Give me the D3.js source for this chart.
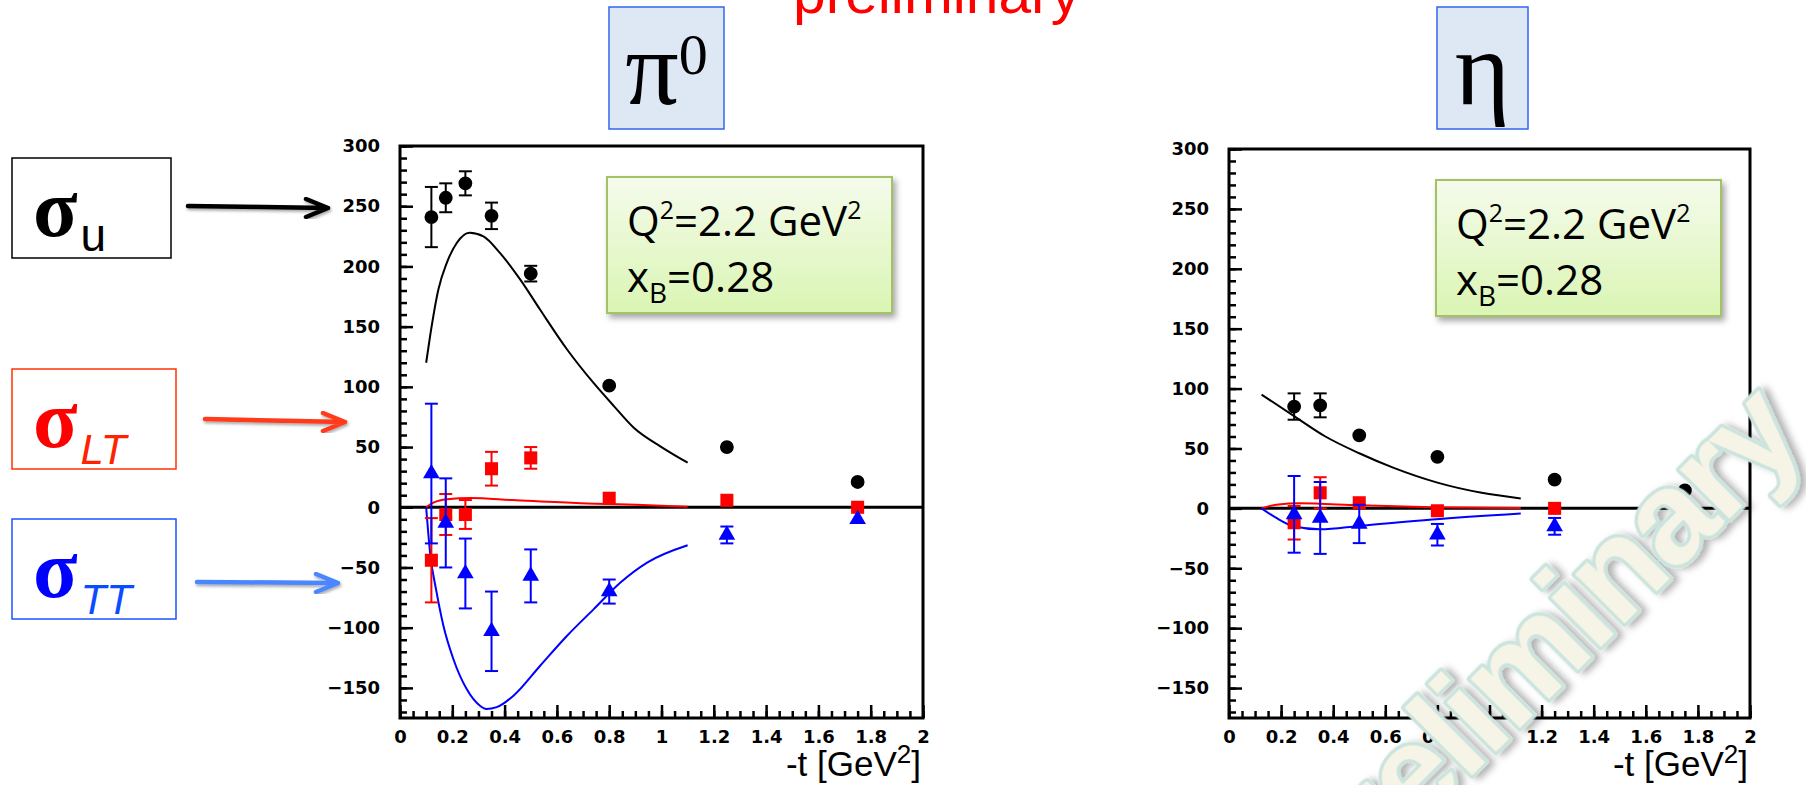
<!DOCTYPE html>
<html lang="en">
<head>
<meta charset="UTF-8">
<title>pi0 and eta structure functions vs -t</title>
<script src="https://cdn.jsdelivr.net/npm/d3@7"></script>
<style>
  body { margin: 0; background: #fff; }
  svg { display: block; }
</style>
</head>
<body>
<div id="chart"></div>
<script>
// ---- data ----
const yTicks = [-150, -100, -50, 0, 50, 100, 150, 200, 250, 300];
const xTicks = [0, 0.2, 0.4, 0.6, 0.8, 1, 1.2, 1.4, 1.6, 1.8, 2];

// pi0 points
const pi0T      = [0.12, 0.175, 0.25, 0.35, 0.5, 0.8, 1.25, 1.75];
const pi0SigU   = [241, 257, 269, 242, 194, 101, 50, 21];
const pi0SigUEr = [25, 12, 10, 11, 6.5, 3, 2, 1.5];
const pi0SigLT  = [-44, -6, -6, 32, 41, 7.5, 5.8, 0];
const pi0SigLTEr= [35, 17, 12, 14, 9, 3, 2, 1.5];
const pi0SigTT  = [28, -13, -55, -103, -57, -70, -23, -10];
const pi0SigTTEr= [58, 37, 29, 33, 22, 10, 7, 3];

// pi0 model curves
const pi0CurveUT  = [0.1, 0.115, 0.147, 0.179, 0.217, 0.266, 0.319, 0.383, 0.46, 0.536, 0.639, 0.741, 0.818, 0.894, 1.0, 1.1];
const pi0CurveU   = [120, 142, 181, 203, 219.5, 228, 225, 211, 189, 164, 131, 103, 84, 66, 50, 37];
const pi0CurveLTT = [0.1, 0.13, 0.18, 0.27, 0.43, 0.69, 0.95, 1.1];
const pi0CurveLT  = [0, 4, 6.6, 7.7, 6, 3.3, 1.7, 0.5];
const pi0CurveTTT = [0.1, 0.115, 0.14, 0.166, 0.204, 0.255, 0.307, 0.33, 0.37, 0.434, 0.536, 0.639, 0.741, 0.843, 0.945, 1.1];
const pi0CurveTT  = [0, -37.6, -70.7, -98.4, -126, -151, -165, -167.5, -166, -156.5, -131.6, -106.7, -84.6, -62.5, -45.9, -31.5];

// eta points
const etaT      = [0.25, 0.35, 0.5, 0.8, 1.25, 1.75];
const etaSigU   = [85, 86, 61, 43, 24, 15];
const etaSigUEr = [11, 10, 3, 2, 2, 1.5];
const etaSigLT  = [-12, 13, 4.7, -2, 0, 0];
const etaSigLTEr= [14, 13, 4, 3, 2, 2];
const etaSigTT  = [-5, -8, -13, -22, -15, 0];
const etaSigTTEr= [32, 30, 16, 9, 7, 3];

// eta model curves
const etaCurveUT  = [0.125, 0.25, 0.37, 0.5, 0.63, 0.8, 0.97, 1.12];
const etaCurveU   = [95, 77, 60, 46, 34, 21.5, 13, 8.3];
const etaCurveLTT = [0.125, 0.19, 0.27, 0.5, 0.78, 1.12];
const etaCurveLT  = [0, 3.3, 4.2, 2.5, 1, 0.3];
const etaCurveTTT = [0.125, 0.18, 0.245, 0.35, 0.5, 0.78, 1.12];
const etaCurveTT  = [0, -7.8, -14.7, -17.5, -14.7, -9.2, -4.2];

const W = 1806, H = 785;
const svg = d3.select("#chart").append("svg").attr("width", W).attr("height", H);

const defs = svg.append("defs");
const grad = defs.append("linearGradient").attr("id", "greenFill")
    .attr("x1", 0).attr("y1", 0).attr("x2", 0).attr("y2", 1);
grad.append("stop").attr("offset", "0%").attr("stop-color", "#f5fbec");
grad.append("stop").attr("offset", "100%").attr("stop-color", "#daf5b3");
defs.append("filter").attr("id", "boxShadow").attr("x", "-10%").attr("y", "-10%").attr("width", "130%").attr("height", "140%")
    .append("feDropShadow").attr("dx", 3).attr("dy", 4).attr("stdDeviation", 3)
    .attr("flood-color", "#000").attr("flood-opacity", 0.35);
defs.append("filter").attr("id", "arrowShadow")
    .append("feDropShadow").attr("dx", 1).attr("dy", 2).attr("stdDeviation", 1.5)
    .attr("flood-color", "#000").attr("flood-opacity", 0.35);
defs.append("filter").attr("id", "wmShadow").attr("x", "-10%").attr("y", "-10%").attr("width", "130%").attr("height", "130%")
    .append("feDropShadow").attr("dx", 4).attr("dy", 5).attr("stdDeviation", 3.5)
    .attr("flood-color", "#000").attr("flood-opacity", 0.3);

const fmtY = d => d < 0 ? "\u2212" + (-d) : String(d);

function zip(t, v, e) {
    return t.map((d, i) => ({ t: d, v: v[i], e: e ? e[i] : 0 }));
}

function drawPanel(cfg) {
    const x = d3.scaleLinear().domain([0, 2]).range([cfg.left, cfg.right]);
    const y = d3.scaleLinear().domain([-175, 300]).range([cfg.bottom, cfg.top]);
    const g = svg.append("g");

    // y axis ticks (inward)
    g.append("g").attr("transform", `translate(${cfg.left},0)`)
        .call(d3.axisLeft(y).tickValues(d3.range(-17, 31).map(i => i * 10)).tickSize(-7).tickFormat(""))
        .call(a => a.select(".domain").remove())
        .selectAll("line").attr("stroke-width", 2.5);
    g.append("g").attr("transform", `translate(${cfg.left},0)`)
        .call(d3.axisLeft(y).tickValues(yTicks).tickSize(-13).tickPadding(20).tickFormat(fmtY))
        .call(a => a.select(".domain").remove())
        .call(a => a.selectAll("line").attr("stroke-width", 2.5))
        .call(a => a.selectAll("text").attr("font-family", "DejaVu Sans").attr("font-weight", "bold").attr("font-size", 18));

    // x axis ticks (inward)
    g.append("g").attr("transform", `translate(0,${cfg.bottom})`)
        .call(d3.axisBottom(x).tickValues(d3.range(0, 41).map(i => i * 0.05)).tickSize(-7).tickFormat(""))
        .call(a => a.select(".domain").remove())
        .selectAll("line").attr("stroke-width", 2.5);
    g.append("g").attr("transform", `translate(0,${cfg.bottom})`)
        .call(d3.axisBottom(x).tickValues(xTicks).tickSize(-13).tickPadding(12).tickFormat(d => String(d)))
        .call(a => a.select(".domain").remove())
        .call(a => a.selectAll("line").attr("stroke-width", 2.5))
        .call(a => a.selectAll("text").attr("font-family", "DejaVu Sans").attr("font-weight", "bold").attr("font-size", 18));

    // frame
    g.append("rect")
        .attr("x", cfg.left).attr("y", cfg.top)
        .attr("width", cfg.right - cfg.left).attr("height", cfg.bottom - cfg.top)
        .attr("fill", "none").attr("stroke", "#000").attr("stroke-width", 3);

    // zero line
    g.append("line")
        .attr("x1", x(0)).attr("x2", x(2)).attr("y1", y(0)).attr("y2", y(0))
        .attr("stroke", "#000").attr("stroke-width", 3);

    // model curves
    const line = d3.line().x(d => x(d.t)).y(d => y(d.v)).curve(d3.curveMonotoneX);
    cfg.curves.forEach(c => {
        g.append("path").datum(zip(c.t, c.v))
            .attr("d", line).attr("fill", "none")
            .attr("stroke", c.color).attr("stroke-width", 2);
    });

    // data points
    cfg.series.forEach(s => {
        const pts = zip(cfg.t, s.v, s.e);
        const eb = g.append("g").attr("stroke", s.color).attr("stroke-width", 2);
        pts.forEach(p => {
            const y1 = y(p.v - p.e), y2 = y(p.v + p.e);
            eb.append("line").attr("x1", x(p.t)).attr("x2", x(p.t)).attr("y1", y1).attr("y2", y2);
            if (y1 - y2 > 14) {
                eb.append("line").attr("x1", x(p.t) - 6.5).attr("x2", x(p.t) + 6.5).attr("y1", y1).attr("y2", y1);
                eb.append("line").attr("x1", x(p.t) - 6.5).attr("x2", x(p.t) + 6.5).attr("y1", y2).attr("y2", y2);
            }
        });
        g.append("g").selectAll("path").data(pts).join("path")
            .attr("transform", d => `translate(${x(d.t)},${y(d.v)})`)
            .attr("d", d3.symbol().type(s.symbol).size(s.size))
            .attr("fill", s.color);
    });

    // axis title
    const tt = g.append("text")
        .attr("x", cfg.right - 2).attr("y", 776)
        .attr("text-anchor", "end")
        .attr("font-family", "Liberation Sans").attr("font-size", 35);
    tt.append("tspan").text("-t [GeV");
    tt.append("tspan").attr("font-size", 26).attr("dy", -13).text("2");
    tt.append("tspan").attr("dy", 13).text("]");

    // kinematics box
    const bx = cfg.left + 207, by = cfg.top + 31;
    g.append("rect")
        .attr("x", bx).attr("y", by).attr("width", 285).attr("height", 136)
        .attr("fill", "url(#greenFill)").attr("stroke", "#a3c265").attr("stroke-width", 2)
        .attr("filter", "url(#boxShadow)");
    const kt = g.append("g").attr("font-family", "Open Sans").attr("font-size", 42).attr("fill", "#000");
    const l1 = kt.append("text").attr("x", bx + 20).attr("y", by + 59);
    l1.append("tspan").text("Q");
    l1.append("tspan").attr("font-size", 25).attr("dy", -17).text("2");
    l1.append("tspan").attr("dy", 17).text("=2.2 GeV");
    l1.append("tspan").attr("font-size", 25).attr("dy", -17).text("2");
    const l2 = kt.append("text").attr("x", bx + 20).attr("y", by + 115);
    l2.append("tspan").text("x");
    l2.append("tspan").attr("font-size", 28).attr("dy", 11).text("B");
    l2.append("tspan").attr("dy", -11).text("=0.28");

    // particle label
    svg.append("rect")
        .attr("x", cfg.titleBox[0]).attr("y", 7).attr("width", cfg.titleBox[1]).attr("height", 122)
        .attr("fill", "#dee8f4").attr("stroke", "#3366ee").attr("stroke-width", 1.5);
    const pl = svg.append("text")
        .attr("x", cfg.titleBox[0] + cfg.titleBox[1] / 2).attr("y", 104)
        .attr("text-anchor", "middle")
        .attr("font-family", "Liberation Serif").attr("font-size", 106);
    pl.append("tspan").text(cfg.title);
    if (cfg.titleSup) pl.append("tspan").attr("font-size", 58).attr("dy", -30).text(cfg.titleSup);
}

drawPanel({
    left: 400, right: 923, top: 146, bottom: 718,
    title: "\u03c0", titleSup: "0", titleBox: [609, 115],
    t: pi0T,
    series: [
        { v: pi0SigU,  e: pi0SigUEr,  color: "#000",    symbol: d3.symbolCircle,   size: 150 },
        { v: pi0SigLT, e: pi0SigLTEr, color: "#ff0000", symbol: d3.symbolSquare,   size: 170 },
        { v: pi0SigTT, e: pi0SigTTEr, color: "#0000ff", symbol: d3.symbolTriangle, size: 120 }
    ],
    curves: [
        { t: pi0CurveUT,  v: pi0CurveU,  color: "#000" },
        { t: pi0CurveLTT, v: pi0CurveLT, color: "#ff0000" },
        { t: pi0CurveTTT, v: pi0CurveTT, color: "#0000ff" }
    ]
});

drawPanel({
    left: 1229, right: 1750, top: 149, bottom: 718,
    title: "\u03b7", titleSup: null, titleBox: [1437, 91],
    t: etaT,
    series: [
        { v: etaSigU,  e: etaSigUEr,  color: "#000",    symbol: d3.symbolCircle,   size: 150 },
        { v: etaSigLT, e: etaSigLTEr, color: "#ff0000", symbol: d3.symbolSquare,   size: 170 },
        { v: etaSigTT, e: etaSigTTEr, color: "#0000ff", symbol: d3.symbolTriangle, size: 120 }
    ],
    curves: [
        { t: etaCurveUT,  v: etaCurveU,  color: "#000" },
        { t: etaCurveLTT, v: etaCurveLT, color: "#ff0000" },
        { t: etaCurveTTT, v: etaCurveTT, color: "#0000ff" }
    ]
});

// legend boxes on the left with arrows
const legend = [
    { sub: "u",  italic: false, color: "#000",    box: "#000",    subColor: "#000",    y: 158, arrow: [188, 206, 328, 208] },
    { sub: "LT", italic: true,  color: "#ff0000", box: "#ff3300", subColor: "#ff2200", y: 369, arrow: [205, 419, 345, 422] },
    { sub: "TT", italic: true,  color: "#0000ff", box: "#1a53ff", subColor: "#0a4cff", y: 519, arrow: [197, 582, 338, 583] }
];
const arrowColors = ["#000", "#ff3a1a", "#4a86ff"];
legend.forEach((d, i) => {
    const lg = svg.append("g");
    lg.append("rect").attr("x", 12).attr("y", d.y).attr("width", i === 0 ? 159 : 164).attr("height", 100)
        .attr("fill", "#fff").attr("stroke", d.box).attr("stroke-width", 1.5);
    const t = lg.append("text").attr("x", 33).attr("y", d.y + 78).attr("fill", d.color);
    t.append("tspan").attr("font-family", "Liberation Serif").attr("font-weight", "bold")
        .attr("font-size", 82).text("\u03c3");
    t.append("tspan").attr("font-family", "Liberation Sans").attr("font-size", i === 0 ? 46 : 42)
        .attr("font-style", d.italic ? "italic" : "normal").attr("fill", d.subColor)
        .attr("dy", i === 0 ? 15 : 17).attr("dx", 3).text(d.sub);
    const [x1, y1, x2, y2] = d.arrow;
    lg.append("path")
        .attr("d", `M${x1},${y1} L${x2},${y2} M${x2 - 22},${y2 - 9} L${x2},${y2} L${x2 - 22},${y2 + 9}`)
        .attr("fill", "none").attr("stroke", arrowColors[i]).attr("stroke-width", 4.5)
        .attr("stroke-linecap", "round").attr("stroke-linejoin", "round")
        .attr("filter", "url(#arrowShadow)");
});

// red "preliminary" cut off at the top
svg.append("text")
    .attr("x", 793).attr("y", 13)
    .attr("font-family", "Liberation Sans").attr("font-size", 58)
    .attr("textLength", 287).attr("lengthAdjust", "spacingAndGlyphs")
    .attr("fill", "#ff0000").text("preliminary");

// watermark over the eta panel
svg.append("text")
    .attr("transform", "translate(1327,921) rotate(-45)")
    .attr("font-family", "Liberation Sans").attr("font-weight", "bold").attr("font-size", 132)
    .attr("letter-spacing", -3)
    .attr("fill", "#f6f4e6").attr("stroke", "#cbe4dd").attr("stroke-width", 7)
    .attr("stroke-linejoin", "round").attr("paint-order", "stroke")
    .attr("filter", "url(#wmShadow)")
    .text("preliminary");
</script>
</body>
</html>
